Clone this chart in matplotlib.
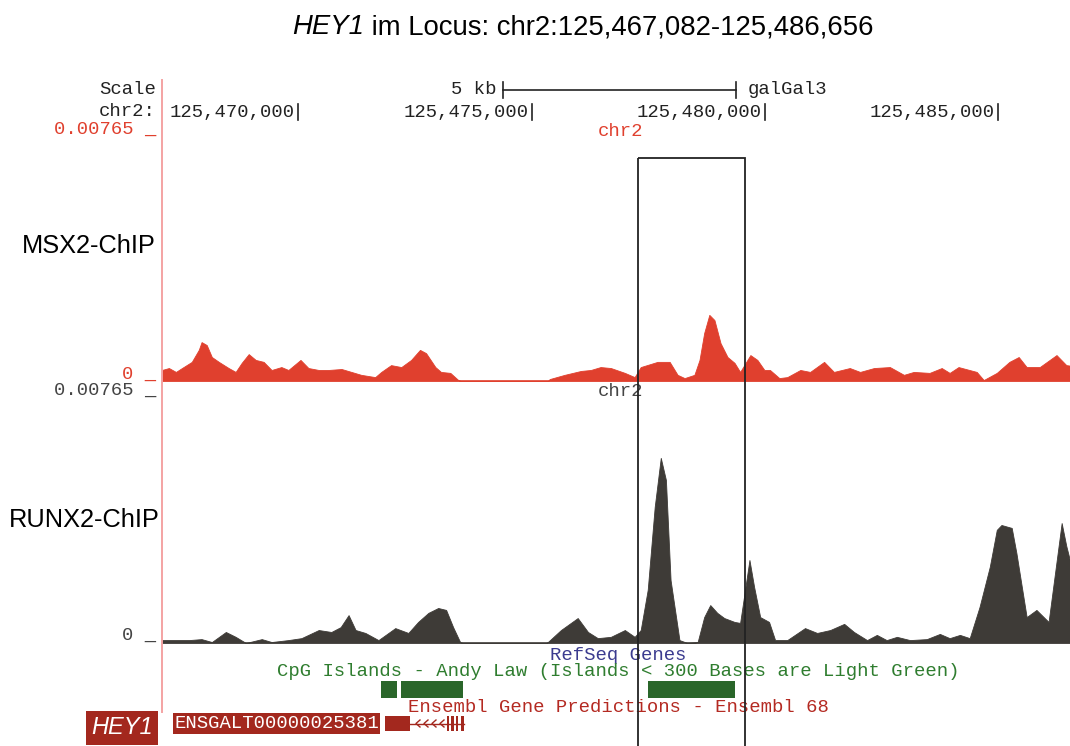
import numpy as np
import matplotlib
matplotlib.use('Agg')
import matplotlib.pyplot as plt
from matplotlib.patches import Rectangle

W, H = 1070, 746
loc_start, loc_end = 125467082, 125486656
y_max = 7.65  # track range, signal in units of 1e-3 (0 .. 0.00765)

# MSX2-ChIP signal: position (kb on chr2), value (x 1e-3)
msx2_kb = [125467.08, 125467.23, 125467.38, 125467.51, 125467.72, 125467.87, 125467.93, 125468.04,
           125468.15, 125468.30, 125468.51, 125468.66, 125468.79, 125468.94, 125469.09, 125469.26,
           125469.43, 125469.64, 125469.79, 125470.05, 125470.22, 125470.44, 125470.65, 125470.93,
           125471.14, 125471.35, 125471.65, 125471.78, 125471.99, 125472.21, 125472.42, 125472.61,
           125472.74, 125472.94, 125473.06, 125473.26, 125473.43, 125473.49, 125475.35, 125475.39,
           125475.71, 125476.06, 125476.27, 125476.48, 125476.70, 125477.00, 125477.21, 125477.34,
           125477.70, 125477.96, 125478.13, 125478.28, 125478.49, 125478.60, 125478.70, 125478.81,
           125478.92, 125479.05, 125479.20, 125479.35, 125479.47, 125479.69, 125479.84, 125479.99,
           125480.11, 125480.31, 125480.48, 125480.76, 125480.97, 125481.27, 125481.48, 125481.82,
           125482.04, 125482.34, 125482.68, 125482.98, 125483.19, 125483.53, 125483.79, 125483.96,
           125484.15, 125484.54, 125484.69, 125484.97, 125485.24, 125485.44, 125485.61, 125485.89,
           125486.25, 125486.46, 125486.66]
msx2_val = [0.34, 0.40, 0.28, 0.40, 0.59, 0.96, 1.20, 1.11,
            0.74, 0.59, 0.40, 0.28, 0.56, 0.83, 0.65, 0.59,
            0.34, 0.43, 0.34, 0.65, 0.40, 0.34, 0.34, 0.37,
            0.28, 0.19, 0.12, 0.28, 0.49, 0.43, 0.65, 0.96,
            0.86, 0.43, 0.28, 0.25, 0.03, 0.0, 0.0, 0.06,
            0.19, 0.31, 0.34, 0.43, 0.40, 0.25, 0.12, 0.43,
            0.59, 0.59, 0.19, 0.09, 0.19, 0.65, 1.48, 2.04,
            1.88, 1.17, 0.74, 0.56, 0.28, 0.80, 0.65, 0.34,
            0.34, 0.09, 0.12, 0.34, 0.28, 0.59, 0.28, 0.40,
            0.28, 0.40, 0.43, 0.19, 0.28, 0.25, 0.40, 0.25,
            0.43, 0.28, 0.03, 0.25, 0.59, 0.74, 0.43, 0.43,
            0.80, 0.49, 0.45]

# RUNX2-ChIP signal
runx2_kb = [125467.08, 125467.38, 125467.66, 125467.93, 125468.15, 125468.45, 125468.66, 125468.88,
            125469.22, 125469.43, 125469.79, 125470.07, 125470.44, 125470.71, 125470.91, 125471.08,
            125471.23, 125471.44, 125471.72, 125472.08, 125472.36, 125472.57, 125472.79, 125473.00,
            125473.17, 125473.32, 125473.47, 125473.53, 125475.31, 125475.35, 125475.63, 125475.99,
            125476.21, 125476.42, 125476.70, 125477.00, 125477.21, 125477.34, 125477.49, 125477.64,
            125477.77, 125477.88, 125477.98, 125478.17, 125478.34, 125478.56, 125478.70, 125478.83,
            125478.98, 125479.13, 125479.35, 125479.47, 125479.67, 125479.77, 125479.90, 125480.09,
            125480.22, 125480.48, 125480.86, 125481.12, 125481.40, 125481.70, 125481.91, 125482.19,
            125482.40, 125482.61, 125482.83, 125483.11, 125483.47, 125483.75, 125483.96, 125484.18,
            125484.39, 125484.60, 125484.82, 125484.97, 125485.07, 125485.29, 125485.39, 125485.61,
            125485.82, 125486.08, 125486.19, 125486.36, 125486.46, 125486.66]
runx2_val = [0.09, 0.09, 0.09, 0.12, 0.03, 0.34, 0.19, 0.0,
             0.12, 0.03, 0.09, 0.15, 0.40, 0.34, 0.49, 0.86,
             0.40, 0.31, 0.09, 0.46, 0.31, 0.65, 0.93, 1.08,
             1.02, 0.49, 0.03, 0.0, 0.0, 0.03, 0.40, 0.77,
             0.34, 0.15, 0.19, 0.40, 0.19, 0.40, 1.64, 4.20,
             5.71, 5.03, 1.94, 0.09, 0.0, 0.03, 0.80, 1.17,
             0.93, 0.77, 0.65, 0.62, 2.56, 1.73, 0.80, 0.65,
             0.09, 0.09, 0.46, 0.31, 0.40, 0.59, 0.34, 0.09,
             0.25, 0.09, 0.19, 0.09, 0.12, 0.28, 0.15, 0.25,
             0.15, 1.11, 2.35, 3.49, 3.64, 3.55, 2.78, 0.80,
             1.02, 0.65, 1.85, 3.70, 2.99, 1.85]

ruler_ticks = [125470000, 125475000, 125480000, 125485000]
scale_bar = (125474380, 125479380)  # 5 kb
highlight = (125477280, 125479570)
cpg_islands = [(125471775, 125472118), (125472203, 125473532), (125477496, 125479361)]
gene_id = 'ENSGALT00000025381'
gene_exons = [(125471860, 125472396), (125473190, 125473240), (125473285, 125473330),
              (125473380, 125473430), (125473480, 125473560)]

ppb = 0.046667  # pixels per base
left_px = 162
mono = 'Liberation Mono'
fs = 13.6
red = '#e0402e'
dark = '#3e3b37'
gene_col = '#a3281e'

fig = plt.figure(figsize=(W / 100, H / 100), dpi=100)
fig.patch.set_facecolor('white')


def fpos(x, y):
    return x / W, 1 - y / H


def add_track(top, bot, kb, val, color):
    ax = fig.add_axes([left_px / W, 1 - bot / H, (loc_end - loc_start) * ppb / W, (bot - top) / H])
    x = np.array(kb) * 1000
    ax.fill_between(x, 0, val, facecolor=color, edgecolor=color, lw=0.6)
    ax.axhline(0, color=color, lw=1.2)
    ax.set_xlim(loc_start, loc_end)
    ax.set_ylim(0, y_max)
    ax.axis('off')
    return ax


add_track(133, 381, msx2_kb, msx2_val, red)
add_track(395, 643, runx2_kb, runx2_val, dark)

# overlay: genomic x, pixel y
ov = fig.add_axes([0, 0, 1, 1])
ov.set_xlim(loc_start - left_px / ppb, loc_start + (W - left_px) / ppb)
ov.set_ylim(H, 0)
ov.axis('off')
ov.patch.set_alpha(0)
bp = 1 / ppb  # one pixel in bases

ov.plot([loc_start, loc_start], [80, 712], color='#f4a3a3', lw=1.4)

# header: scale bar and ruler
s0, s1 = scale_bar
ov.plot([s0, s1], [90, 90], color='#222', lw=1.2)
ov.plot([s0, s0], [82, 98], color='#222', lw=1.2)
ov.plot([s1, s1], [82, 98], color='#222', lw=1.2)
ov.text(s0 - 6 * bp, 89, '5 kb', ha='right', va='center', family=mono, fontsize=fs, color='#222')
ov.text(s1 + 12 * bp, 89, 'galGal3', ha='left', va='center', family=mono, fontsize=fs, color='#222')
for t in ruler_ticks:
    ov.plot([t, t], [104, 120], color='#222', lw=1.2)
    ov.text(t - 3 * bp, 112, f'{t:,}', ha='right', va='center', family=mono, fontsize=fs, color='#222')

mid = (loc_start + loc_end) / 2
ov.text(mid + 2 * bp, 131, 'chr2', ha='center', va='center', family=mono, fontsize=fs, color=red)
ov.text(mid + 2 * bp, 392, 'chr2', ha='center', va='center', family=mono, fontsize=fs, color='#444')

# highlighted region
h0, h1 = highlight
ov.add_patch(Rectangle((h0, 158), h1 - h0, 600, fill=False, ec='#222', lw=1.3, zorder=5))

# annotation tracks
ov.text(mid, 655, 'RefSeq Genes', ha='center', va='center', family=mono, fontsize=fs, color='#3b3b8f')
ov.text(mid, 671, 'CpG Islands - Andy Law (Islands < 300 Bases are Light Green)', ha='center', va='center',
        family=mono, fontsize=fs, color='#2f7d2f')
for s, e in cpg_islands:
    ov.add_patch(Rectangle((s, 681), e - s, 17, color='#2a662a', lw=0))
ov.text(mid, 707, 'Ensembl Gene Predictions - Ensembl 68', ha='center', va='center', family=mono,
        fontsize=fs, color='#b42a22')

g0 = gene_exons[0][0]
g1 = gene_exons[-1][1]
ov.plot([gene_exons[0][1], g1], [723.5, 723.5], color=gene_col, lw=1)
for s, e in gene_exons:
    ov.add_patch(Rectangle((s, 716), e - s, 15, color=gene_col, lw=0))
for c in np.arange(gene_exons[0][1] + 6 * bp, gene_exons[1][0] - 3 * bp, 8 * bp):
    ov.plot([c + 4 * bp, c, c + 4 * bp], [720, 723.5, 727], color=gene_col, lw=1)
ov.text(g0 - 6 * bp, 723.5, gene_id, ha='right', va='center', family=mono, fontsize=fs, color='white',
        bbox=dict(boxstyle='square,pad=0.08', fc=gene_col, ec='none'))

# left-hand labels
lab = dict(ha='right', va='center', family=mono, fontsize=fs)
fig.text(*fpos(156, 89), 'Scale', color='#222', **lab)
fig.text(*fpos(156, 112), 'chr2:', color='#222', **lab)
fig.text(*fpos(156, 129), '0.00765 _', color=red, **lab)
fig.text(*fpos(156, 374), '0 _', color=red, **lab)
fig.text(*fpos(156, 390), '0.00765 _', color='#444', **lab)
fig.text(*fpos(156, 635), '0 _', color='#444', **lab)

fig.text(*fpos(156, 246), 'MSX2-ChIP', ha='right', va='center', family='Liberation Sans', fontsize=18.3)
fig.text(*fpos(160, 520), 'RUNX2-ChIP', ha='right', va='center', family='Liberation Sans', fontsize=18.3)

fig.patches.append(Rectangle(fpos(86, 745), 72 / W, 34 / H, transform=fig.transFigure,
                             color=gene_col, lw=0, figure=fig))
fig.text(*fpos(122, 728), 'HEY1', ha='center', va='center', family='Liberation Sans', style='italic',
         fontsize=17, color='white')

# title, gene name in italics, centred over the plot
renderer = fig.canvas.get_renderer()
tfs = 19.8
t1 = fig.text(0, 1 - 27 / H, 'HEY1', ha='left', va='center', family='Liberation Sans', style='italic',
              fontsize=tfs)
t2 = fig.text(0, 1 - 27 / H, ' im Locus: chr2:125,467,082-125,486,656', ha='left', va='center',
              family='Liberation Sans', fontsize=tfs)
w1 = t1.get_window_extent(renderer).width
w2 = t2.get_window_extent(renderer).width
x0 = 583 - (w1 + w2) / 2
t1.set_x(x0 / W)
t2.set_x((x0 + w1) / W)

fig.savefig('out.png', dpi=100, facecolor='white')
